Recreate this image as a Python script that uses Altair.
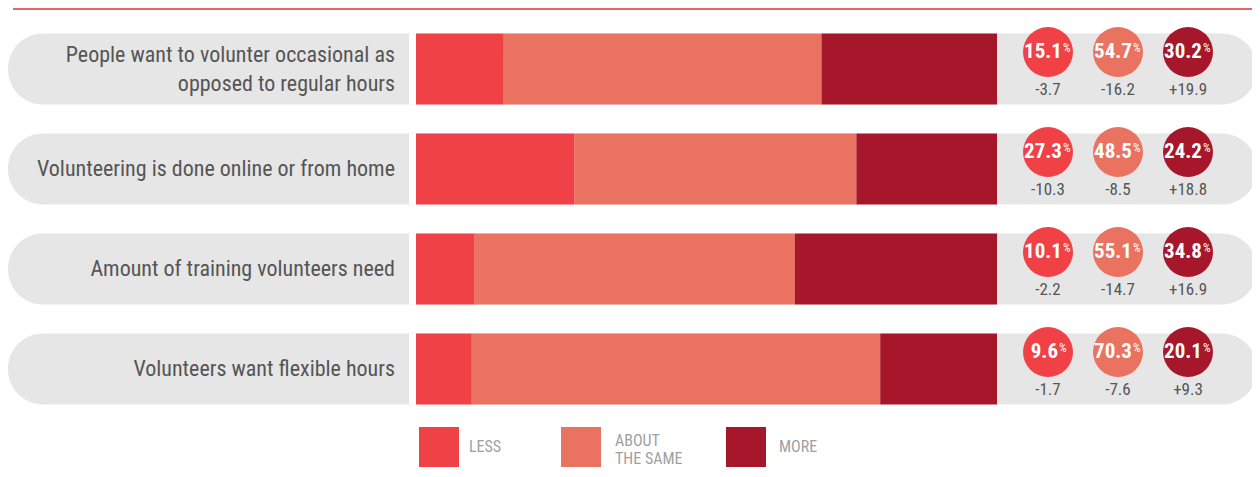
import altair as alt
import pandas as pd

categories = [
    "People want to volunter occasional as\nopposed to regular hours",
    "Volunteering is done online or from home",
    "Amount of training volunteers need",
    "Volunteers want flexible hours",
]
types = ["LESS", "ABOUT THE SAME", "MORE"]
legend_labels = ["LESS", "ABOUT\nTHE SAME", "MORE"]
less_vals = [15.1, 27.3, 10.1, 9.6]
same_vals = [54.7, 48.5, 55.1, 70.3]
more_vals = [30.2, 24.2, 34.8, 20.1]
less_delta = [-3.7, -10.3, -2.2, -1.7]
same_delta = [-16.2, -8.5, -14.7, -7.6]
more_delta = [19.9, 18.8, 16.9, 9.3]
colors = ["#ef4146", "#e97261", "#a6172b"]

rows = []
for i, c in enumerate(categories):
    for j, (t, vals, dels) in enumerate(zip(types, [less_vals, same_vals, more_vals],
                                            [less_delta, same_delta, more_delta])):
        rows.append({"category": c, "type": t, "order": j, "value": vals[i],
                     "pct": f"{vals[i]:.1f}", "delta": f"{dels[i]:+.1f}"})
df = pd.DataFrame(rows)
cat_df = pd.DataFrame({"category": categories,
                       "nlines": [c.count("\n") + 1 for c in categories]})

FONT = "Roboto Condensed, Liberation Sans Narrow, DejaVu Sans Condensed, Roboto"
W, H = 1244, 461

yenc = alt.Y("category:N", scale=alt.Scale(domain=categories, range=[25.5, 396.5],
                                           paddingInner=0.29, paddingOuter=0), axis=None)
xtype = alt.X("type:N", scale=alt.Scale(domain=types, range=[1040, 1180], padding=0), axis=None)
color = alt.Color("type:N", scale=alt.Scale(domain=types, range=colors), legend=None)

bg = alt.Chart(cat_df).mark_rect(cornerRadius=35, color="#e6e6e6").encode(
    x=alt.value(0), x2=alt.value(1249), y=yenc)
gap = alt.Chart(cat_df).mark_rect(color="white").encode(
    x=alt.value(401), x2=alt.value(408), y=yenc)

label_props = dict(align="right", baseline="middle", font=FONT, fontSize=22,
                   color="#555555", lineBreak="\n", lineHeight=29)
labels1 = alt.Chart(cat_df).transform_filter("datum.nlines == 1").mark_text(**label_props).encode(
    x=alt.value(387), y=yenc, text="category:N")
labels2 = alt.Chart(cat_df).transform_filter("datum.nlines == 2").mark_text(dy=-14.5, **label_props).encode(
    x=alt.value(387), y=yenc, text="category:N")

bars = alt.Chart(df).mark_bar().encode(
    x=alt.X("value:Q", stack="zero", scale=alt.Scale(domain=[0, 100], range=[408, 989]), axis=None),
    y=yenc, color=color, order=alt.Order("order:Q"))
circles = alt.Chart(df).mark_circle(size=2500, opacity=1, yOffset=-17).encode(
    x=xtype, y=yenc, color=color)

pct_layers = []
for cond, dx in [("length(datum.pct) >= 4", 14), ("length(datum.pct) < 4", 10)]:
    pct_layers.append(alt.Chart(df).transform_filter(cond).mark_text(
        align="right", baseline="middle", font=FONT, fontSize=21, fontWeight="bold",
        color="white", dx=dx, dy=-17).encode(x=xtype, y=yenc, text="pct:N"))
    pct_layers.append(alt.Chart(df).transform_filter(cond).mark_text(
        align="left", baseline="middle", font=FONT, fontSize=12, color="white",
        dx=dx + 1, dy=-21).encode(x=xtype, y=yenc, text=alt.value("%")))

deltas = alt.Chart(df).mark_text(align="center", baseline="middle", font=FONT, fontSize=17,
                                 color="#555555", dy=21).encode(
    x=xtype, y=yenc, text="delta:N")

topline = alt.Chart(cat_df).mark_rule(color="#e8636a", strokeWidth=2).encode(
    x=alt.value(5), x2=alt.value(1244), y=alt.value(1))

leg_layers = []
leg_x = [411, 553, 718]
leg_tx = [461, 607, 771]
leg_df = pd.DataFrame({"type": types, "label": legend_labels})
sq_top, sq_size = 419, 40
for k, t in enumerate(types):
    d = leg_df[leg_df["type"] == t]
    center = sq_top + sq_size / 2
    ty = center - 6 if "\n" in legend_labels[k] else center
    leg_layers.append(alt.Chart(d).mark_rect(color=colors[k]).encode(
        x=alt.value(leg_x[k]), x2=alt.value(leg_x[k] + sq_size),
        y=alt.value(sq_top), y2=alt.value(sq_top + sq_size)))
    leg_layers.append(alt.Chart(d).mark_text(align="left", baseline="middle", font=FONT,
                                             fontSize=16, color="#9f9f9f", lineBreak="\n",
                                             lineHeight=18).encode(
        x=alt.value(leg_tx[k]), y=alt.value(ty), text="label:N"))

chart = alt.layer(topline, bg, gap, labels1, labels2, bars, circles, *pct_layers, deltas,
                  *leg_layers).resolve_scale(x="independent", color="shared").properties(
    width=W, height=H, padding=0, autosize=alt.AutoSizeParams(type="none")
).configure_view(stroke=None)

chart.save("out.html", embed_options={"renderer": "svg", "actions": False})
